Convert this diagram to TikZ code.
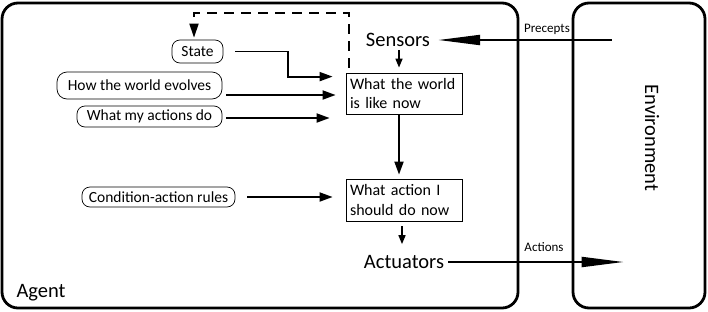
\documentclass[tikz,border=0pt]{standalone}
\usepackage{fontspec}
\setmainfont{Carlito}
\usetikzlibrary{arrows.meta,calc}
\begin{document}
\begin{tikzpicture}[x=1pt,y=-1pt,
  frame/.style={draw, line width=2.8pt, rounded corners=16pt, inner sep=0},
  box/.style={draw, line width=0.8pt, inner ysep=0, inner xsep=4pt, font=\fontsize{16}{20}\selectfont, align=left, text width=108pt, minimum width=116pt},
  know/.style={draw, line width=0.7pt, rounded corners=8pt, inner sep=0, font=\fontsize{15.5}{18}\selectfont},
  big/.style={inner sep=0, font=\fontsize{20.5}{24}\selectfont},
  small/.style={inner sep=0, font=\fontsize{13}{15}\selectfont},
  arr/.style={line width=1.8pt, -{Triangle[length=13pt,width=9pt]}},
  sarr/.style={line width=1.6pt, -{Triangle[length=9pt,width=7pt]}},
  warr/.style={line width=2pt, -{Triangle[length=42pt,width=10pt]}},
  dasharr/.style={line width=1.8pt, dash pattern=on 10pt off 7pt, -{Triangle[length=14pt,width=9pt]}}
]
\useasboundingbox (0,0) rectangle (708,311);

% frames
\node[frame, minimum width=516pt, minimum height=305pt] (agent) at (260,155.5) {};
\node[frame, minimum width=132pt, minimum height=305pt] (env) at (639,155.5) {};
\node[big, rotate=-90] (envlabel) at (652,138) {Environment};
\node[big] (agentlabel) at (41,293) {Agent};

% central column
\node[big] (sensors) at (398,40) {Sensors};
\node[box, minimum height=41pt] (world) at (404,93.5) {What the world\\is like now};
\node[box, minimum height=42pt] (action) at (404,200) {What action I\\should do now};
\node[big] (actuators) at (404,262) {Actuators};

% knowledge boxes
\node[know, minimum width=51pt, minimum height=23pt] (state) at (197.5,51.5) {State};
\node[know, minimum width=165pt, minimum height=27pt, rounded corners=10pt] (evolves) at (139.5,85.5) {How the world evolves};
\node[know, minimum width=145pt, minimum height=21pt] (myact) at (149.5,116.5) {What my actions do};
\node[know, minimum width=153pt, minimum height=20pt] (cond) at (158.5,197) {Condition-action rules};

% labels
\node[small] (precepts) at (547,29) {Precepts};
\node[small] (actions) at (544,247) {Actions};

% connector start points
\coordinate (e1) at ([xshift=4pt,yshift=-9.5pt]evolves.east);
\coordinate (m1) at ([xshift=4pt,yshift=-1.5pt]myact.east);

% connectors
\draw[warr] ([xshift=40pt]env.west |- sensors.east) -- ([xshift=8pt]sensors.east);
\draw[warr] ([xshift=4pt]actuators.east) -- ([xshift=52pt]env.west |- actuators.east);
\draw[sarr] ([yshift=-3.5pt,xshift=1pt]sensors.south) -- ([xshift=-5pt,yshift=5pt]world.north);
\draw[arr] ([xshift=-5pt]world.south) -- ([xshift=-5pt,yshift=4pt]action.north);
\draw[sarr] ([xshift=-2pt,yshift=-5pt]action.south) -- ([xshift=-2pt,yshift=11pt]actuators.north);
\draw[arr] ([xshift=12pt]state.east) -- ++(53,0) |- ([xshift=-13pt,yshift=-4pt]world.north west);
\draw[arr] (e1) -- ([xshift=-10pt]world.west |- e1);
\draw[arr] (m1) -- ([xshift=-16pt]world.west |- m1);
\draw[arr] ([xshift=12pt]cond.east) -- ([xshift=-13pt]action.west |- cond.east);
\draw[dasharr] ([xshift=3pt,yshift=5pt]world.north west) -- ++(0,-55) -| ([xshift=-3.5pt,yshift=2pt]state.north);
\end{tikzpicture}
\end{document}
